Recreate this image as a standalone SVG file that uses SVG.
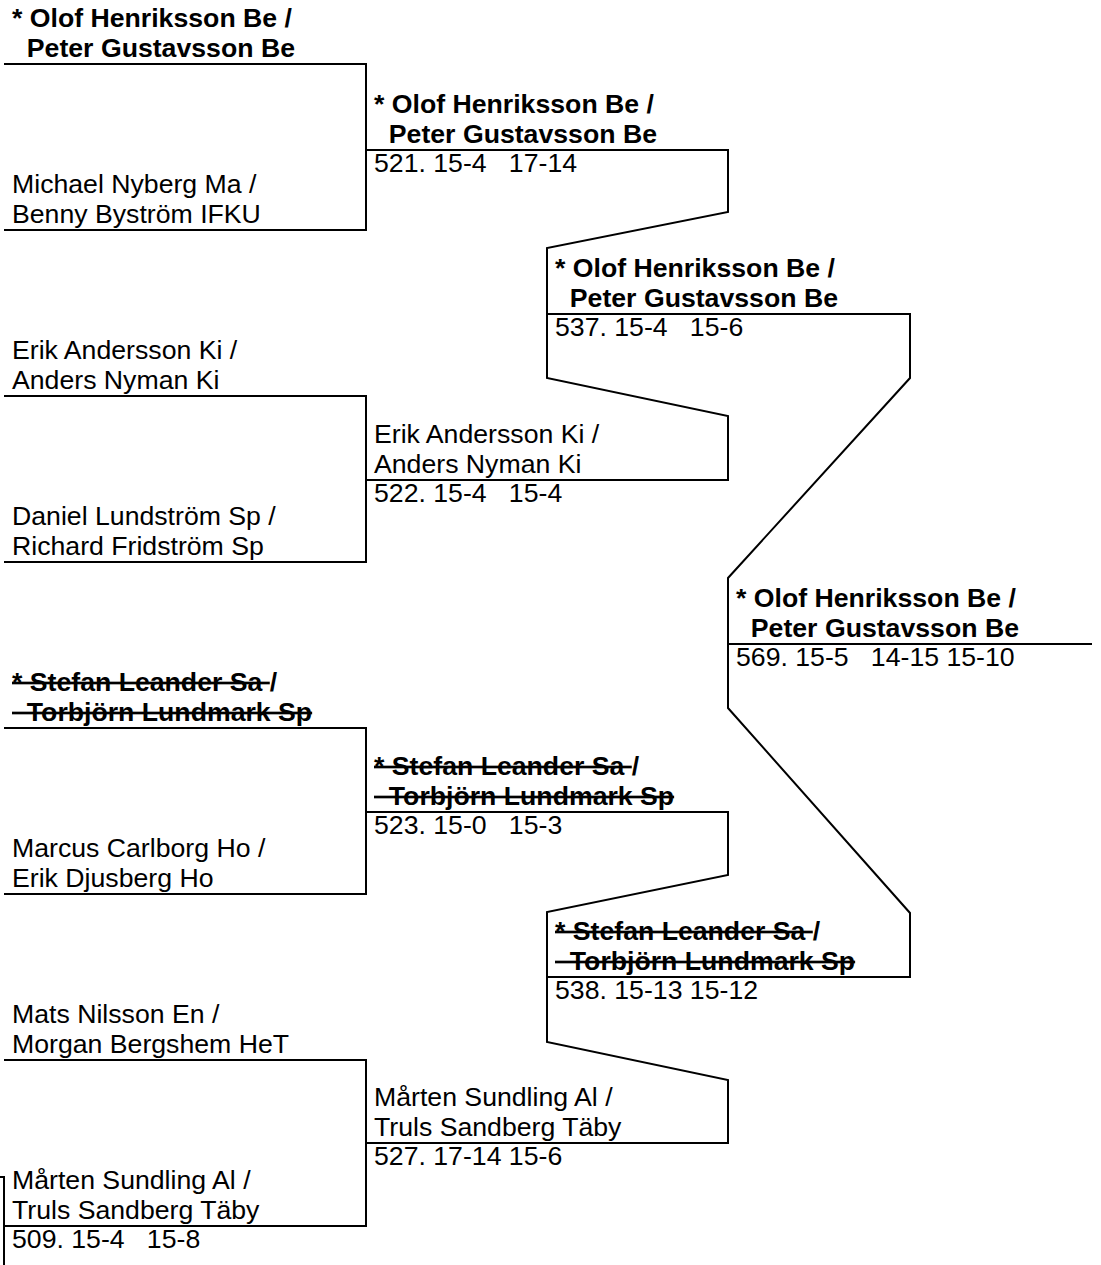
<svg xmlns="http://www.w3.org/2000/svg" width="1101" height="1265" viewBox="0 0 1101 1265" xml:space="preserve">
<style>
text{font-family:"Liberation Sans",Arial,sans-serif;font-size:26.67px;fill:#000;white-space:pre}
.b{font-weight:bold}
.s{text-decoration:line-through}
.c{fill:none;stroke:#000;stroke-width:2}
</style>
<rect width="1101" height="1265" fill="#fff"/>
<g id="connectors" class="c">
<path d="M4,64 H366 V230 H4"/>
<path d="M4,396 H366 V562 H4"/>
<path d="M4,728 H366 V894 H4"/>
<path d="M4,1060 H366 V1226 H4"/>
<path d="M0,1177 H4 V1265"/>
<path d="M366,150 H728 V212 L547,248 V378 L728,416 V480 H366"/>
<path d="M366,812 H728 V875 L547,912 V1042 L728,1080 V1143 H366"/>
<path d="M547,314 H910 V378 L728,578 V708 L910,913 V977 H547"/>
<path d="M728,644 H1092"/>
</g>
<g id="r1-olof"><text class="b" x="12" y="27">* Olof Henriksson Be /</text><text class="b" x="12" y="57">  Peter Gustavsson Be</text></g>
<g id="r1-michael"><text x="12" y="193">Michael Nyberg Ma /</text><text x="12" y="223">Benny Byström IFKU</text></g>
<g id="r1-erik"><text x="12" y="359">Erik Andersson Ki /</text><text x="12" y="389">Anders Nyman Ki</text></g>
<g id="r1-daniel"><text x="12" y="525">Daniel Lundström Sp /</text><text x="12" y="555">Richard Fridström Sp</text></g>
<g id="r1-stefan"><text class="b" x="12" y="691"><tspan class="s">* Stefan Leander Sa </tspan>/</text><text class="b s" x="12" y="721">  Torbjörn Lundmark Sp</text></g>
<g id="r1-marcus"><text x="12" y="857">Marcus Carlborg Ho /</text><text x="12" y="887">Erik Djusberg Ho</text></g>
<g id="r1-mats"><text x="12" y="1023">Mats Nilsson En /</text><text x="12" y="1053">Morgan Bergshem HeT</text></g>
<g id="r1-marten"><text x="12" y="1189">Mårten Sundling Al /</text><text x="12" y="1219">Truls Sandberg Täby</text><text x="12" y="1248">509. 15-4   15-8</text></g>
<g id="m521"><text class="b" x="374" y="113">* Olof Henriksson Be /</text><text class="b" x="374" y="143">  Peter Gustavsson Be</text><text x="374" y="172">521. 15-4   17-14</text></g>
<g id="m522"><text x="374" y="443">Erik Andersson Ki /</text><text x="374" y="473">Anders Nyman Ki</text><text x="374" y="502">522. 15-4   15-4</text></g>
<g id="m523"><text class="b" x="374" y="775"><tspan class="s">* Stefan Leander Sa </tspan>/</text><text class="b s" x="374" y="805">  Torbjörn Lundmark Sp</text><text x="374" y="834">523. 15-0   15-3</text></g>
<g id="m527"><text x="374" y="1106">Mårten Sundling Al /</text><text x="374" y="1136">Truls Sandberg Täby</text><text x="374" y="1165">527. 17-14 15-6</text></g>
<g id="m537"><text class="b" x="555" y="277">* Olof Henriksson Be /</text><text class="b" x="555" y="307">  Peter Gustavsson Be</text><text x="555" y="336">537. 15-4   15-6</text></g>
<g id="m538"><text class="b" x="555" y="940"><tspan class="s">* Stefan Leander Sa </tspan>/</text><text class="b s" x="555" y="970">  Torbjörn Lundmark Sp</text><text x="555" y="999">538. 15-13 15-12</text></g>
<g id="m569"><text class="b" x="736" y="607">* Olof Henriksson Be /</text><text class="b" x="736" y="637">  Peter Gustavsson Be</text><text x="736" y="666">569. 15-5   14-15 15-10</text></g>
</svg>
